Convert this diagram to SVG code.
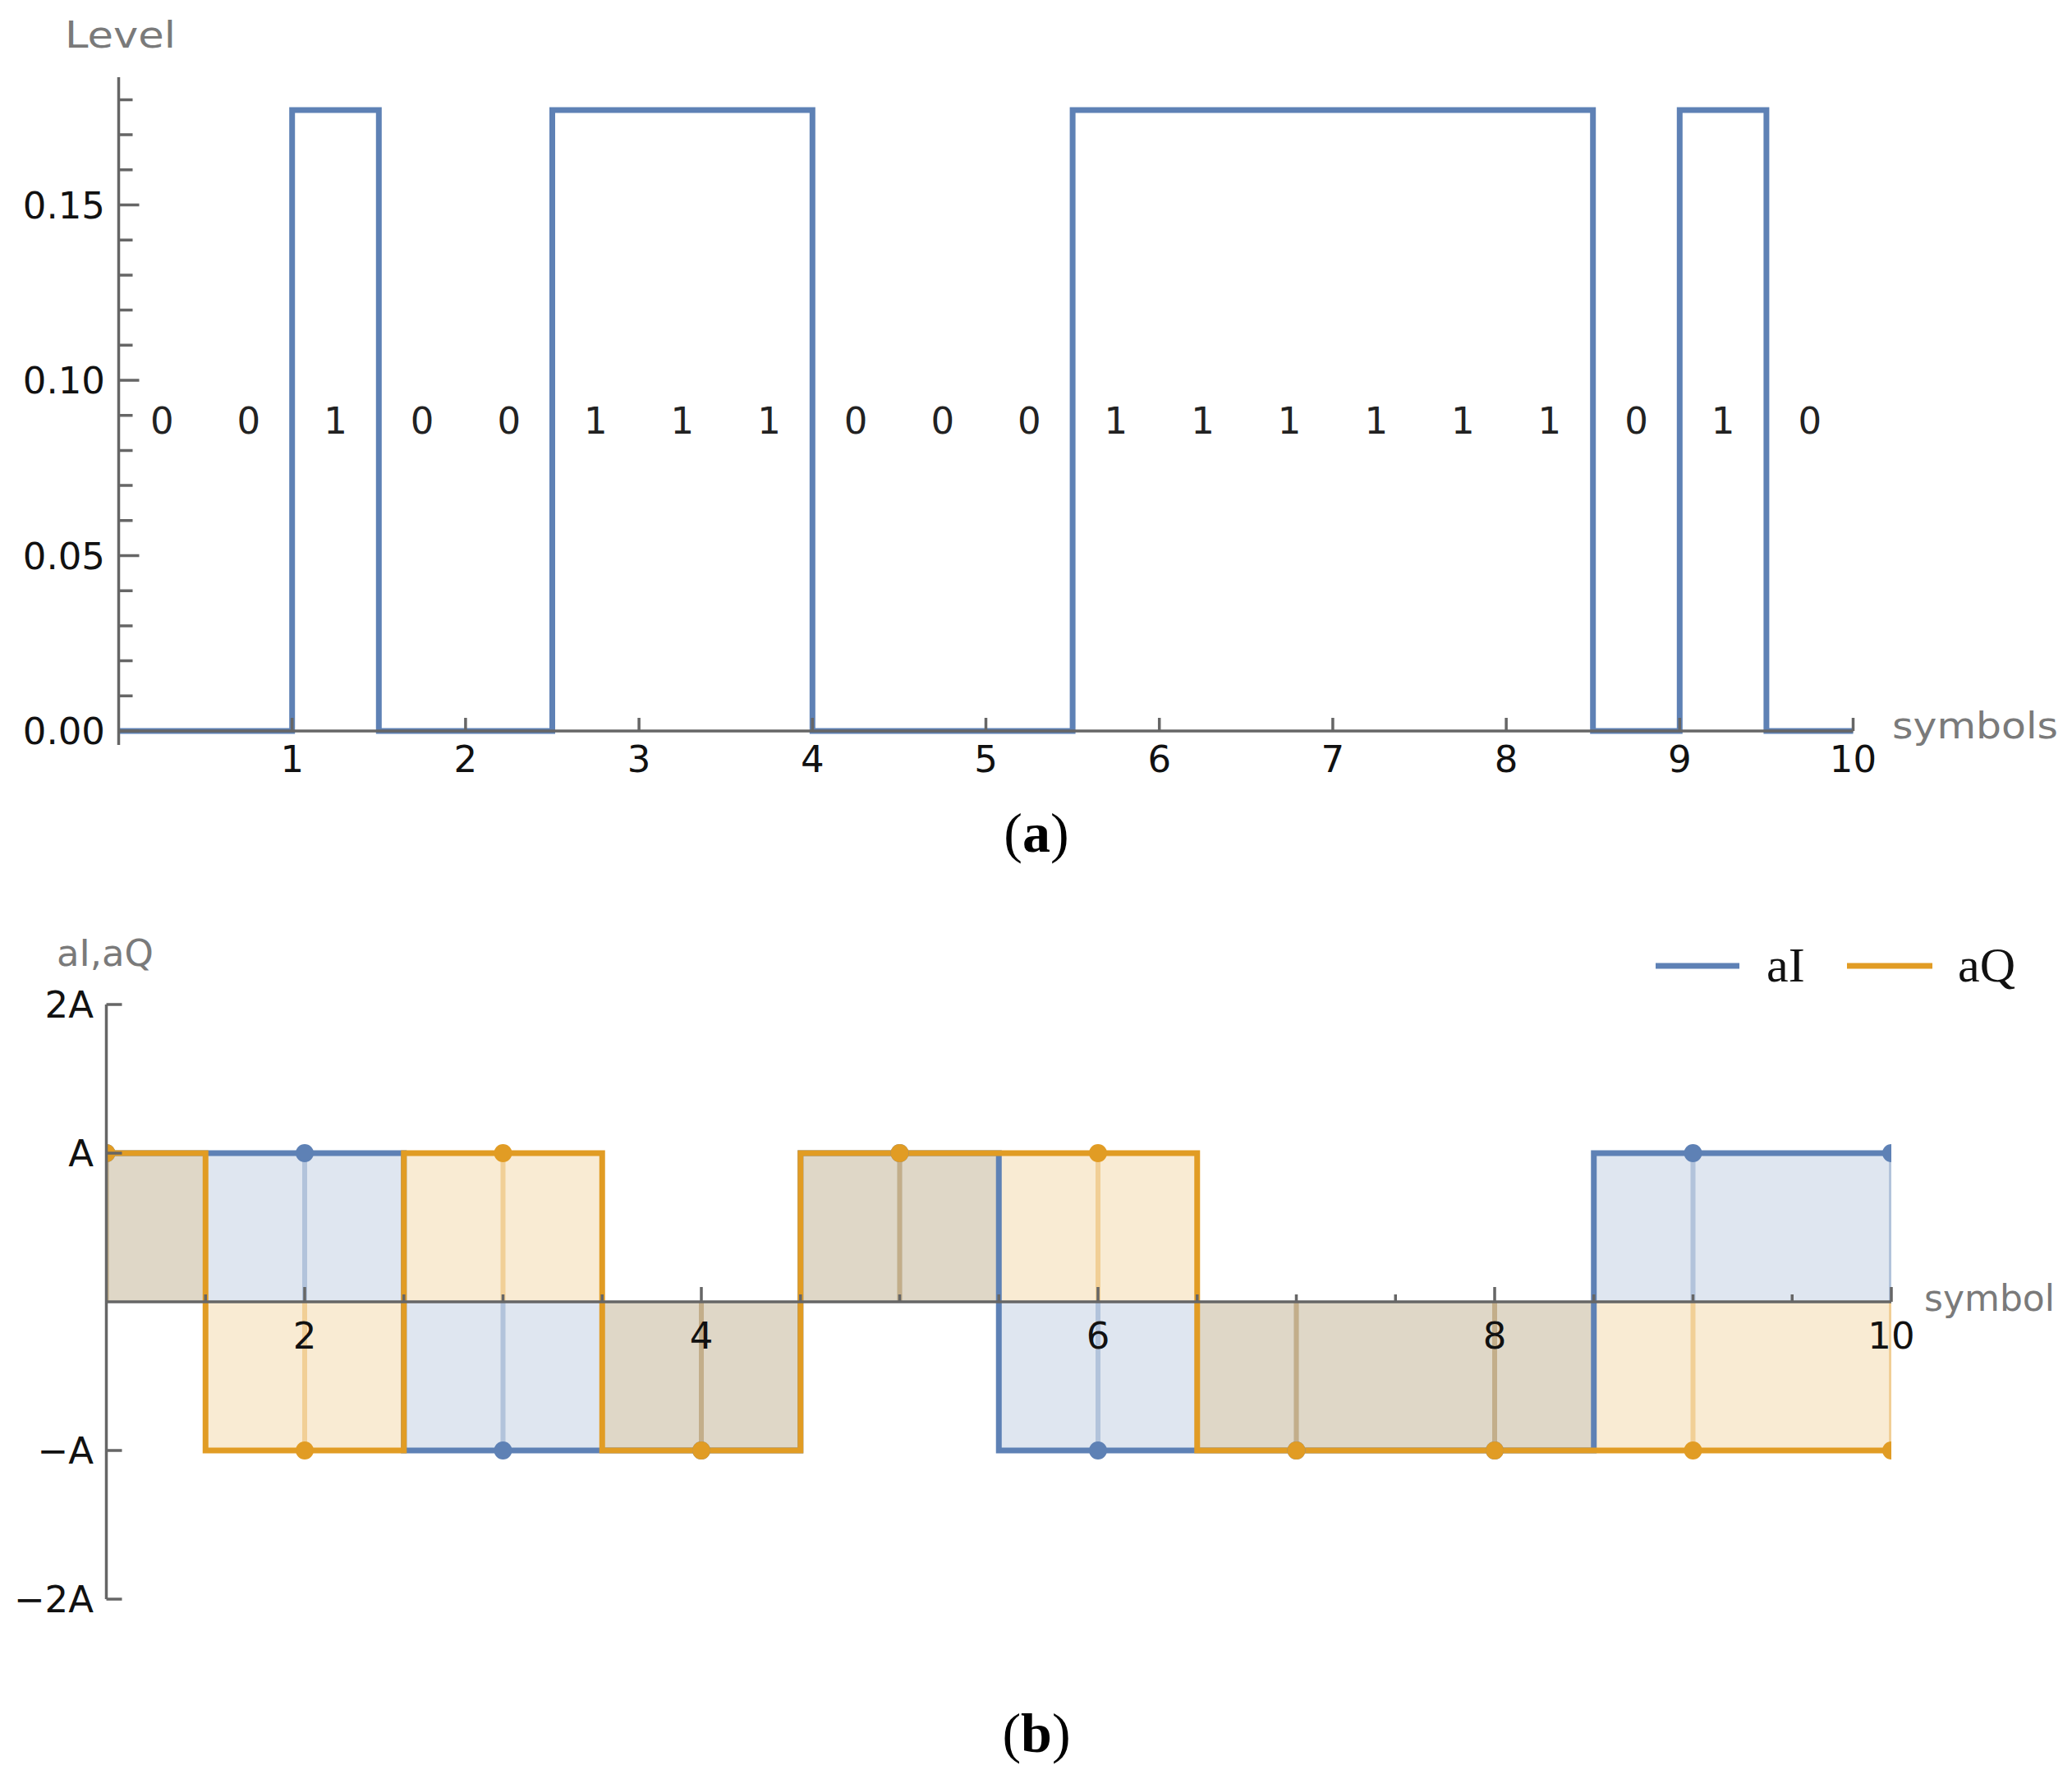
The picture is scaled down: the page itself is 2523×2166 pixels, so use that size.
<svg xmlns="http://www.w3.org/2000/svg" width="2523" height="2166" viewBox="0 0 2523 2166">
<style>
.ax{stroke:#666;stroke-width:3.5;fill:none}
.tk{stroke:#666;stroke-width:3.5}
.num{font-family:"DejaVu Sans",sans-serif;font-size:45px;fill:#111}
.lab{font-family:"DejaVu Sans",sans-serif;font-size:45px;fill:#7a7a7a}
.bit{font-family:"DejaVu Sans",sans-serif;font-size:45px;fill:#222;text-anchor:middle}
.cap{font-family:"Liberation Serif","Times New Roman",serif;font-size:68px;fill:#000;text-anchor:middle}
.leg{font-family:"Liberation Serif","Times New Roman",serif;font-size:60px;fill:#111}
.bl{stroke:#5E81B5;stroke-width:7;fill:none;stroke-linejoin:miter}
.ol{stroke:#E19C24;stroke-width:7;fill:none;stroke-linejoin:miter}
.bf{fill:#5E81B5;fill-opacity:0.2}
.of{fill:#E19C24;fill-opacity:0.2}
.bs{stroke:#5E81B5;stroke-opacity:0.35;stroke-width:6}
.os{stroke:#E19C24;stroke-opacity:0.35;stroke-width:6}
.bd{fill:#5E81B5}
.od{fill:#E19C24}
</style>
<defs>
<clipPath id="clipB"><rect x="129.5" y="1100" width="2173.5" height="900"/></clipPath>
</defs>
<rect width="2523" height="2166" fill="#fff"/>

<g id="chart-a">
  <g id="a-signal">
    <path class="bl" d="M144.5 890 H355.7 V134 H461.3 V890 H672.5 V134 H989.3 V890 H1306.1 V134 H1939.7 V890 H2045.3 V134 H2150.9 V890 H2256.5"/>
  </g>
  <g id="a-axes">
    <line class="ax" x1="144.5" y1="94" x2="144.5" y2="907"/>
    <line class="ax" x1="144.5" y1="890" x2="2256.5" y2="890"/>
    <!-- y ticks -->
    <path class="tk" d="M144.5 890 h25 M144.5 847.3 h17 M144.5 804.6 h17 M144.5 761.9 h17 M144.5 719.2 h17 M144.5 676.5 h25 M144.5 633.8 h17 M144.5 591.1 h17 M144.5 548.4 h17 M144.5 505.7 h17 M144.5 463 h25 M144.5 420.3 h17 M144.5 377.6 h17 M144.5 334.9 h17 M144.5 292.2 h17 M144.5 249.5 h25 M144.5 206.8 h17 M144.5 164.1 h17 M144.5 121.4 h17"/>
    <!-- x ticks -->
    <path class="tk" d="M355.7 890 v-16 M566.9 890 v-16 M778.1 890 v-16 M989.3 890 v-16 M1200.5 890 v-16 M1411.7 890 v-16 M1622.9 890 v-16 M1834.1 890 v-16 M2045.3 890 v-16 M2256.5 890 v-16"/>
  </g>
  <g id="a-labels">
    <text class="lab" x="79" y="58" textLength="135" lengthAdjust="spacingAndGlyphs">Level</text>
    <text class="lab" x="2304" y="899" textLength="202" lengthAdjust="spacingAndGlyphs">symbols</text>
    <g class="num" text-anchor="end">
      <text x="128" y="906">0.00</text>
      <text x="128" y="692.5">0.05</text>
      <text x="128" y="479">0.10</text>
      <text x="128" y="265.5">0.15</text>
    </g>
    <g class="num" text-anchor="middle">
      <text x="355.7" y="940">1</text>
      <text x="566.9" y="940">2</text>
      <text x="778.1" y="940">3</text>
      <text x="989.3" y="940">4</text>
      <text x="1200.5" y="940">5</text>
      <text x="1411.7" y="940">6</text>
      <text x="1622.9" y="940">7</text>
      <text x="1834.1" y="940">8</text>
      <text x="2045.3" y="940">9</text>
      <text x="2256.5" y="940">10</text>
    </g>
    <g id="a-bits">
      <text class="bit" x="197.3" y="528">0</text>
      <text class="bit" x="302.9" y="528">0</text>
      <text class="bit" x="408.5" y="528">1</text>
      <text class="bit" x="514.1" y="528">0</text>
      <text class="bit" x="619.7" y="528">0</text>
      <text class="bit" x="725.3" y="528">1</text>
      <text class="bit" x="830.9" y="528">1</text>
      <text class="bit" x="936.5" y="528">1</text>
      <text class="bit" x="1042.1" y="528">0</text>
      <text class="bit" x="1147.7" y="528">0</text>
      <text class="bit" x="1253.3" y="528">0</text>
      <text class="bit" x="1358.9" y="528">1</text>
      <text class="bit" x="1464.5" y="528">1</text>
      <text class="bit" x="1570.1" y="528">1</text>
      <text class="bit" x="1675.7" y="528">1</text>
      <text class="bit" x="1781.3" y="528">1</text>
      <text class="bit" x="1886.9" y="528">1</text>
      <text class="bit" x="1992.5" y="528">0</text>
      <text class="bit" x="2098.1" y="528">1</text>
      <text class="bit" x="2203.7" y="528">0</text>
    </g>
    <text class="cap" x="1262" y="1037">(<tspan font-weight="bold">a</tspan>)</text>
  </g>
</g>

<g id="chart-b">
  <g id="b-plot" clip-path="url(#clipB)">
    <g id="b-fill-aI">
      <rect class="bf" x="129.5" y="1404" width="362.25" height="181"/>
      <rect class="bf" x="491.75" y="1585" width="483" height="181"/>
      <rect class="bf" x="974.75" y="1404" width="241.5" height="181"/>
      <rect class="bf" x="1216.25" y="1585" width="724.5" height="181"/>
      <rect class="bf" x="1940.75" y="1404" width="362.25" height="181"/>
    </g>
    <g id="b-fill-aQ">
      <rect class="of" x="129.5" y="1404" width="120.75" height="181"/>
      <rect class="of" x="250.25" y="1585" width="241.5" height="181"/>
      <rect class="of" x="491.75" y="1404" width="241.5" height="181"/>
      <rect class="of" x="733.25" y="1585" width="241.5" height="181"/>
      <rect class="of" x="974.75" y="1404" width="483" height="181"/>
      <rect class="of" x="1457.75" y="1585" width="845.25" height="181"/>
    </g>
    <g id="b-stems">
      <path class="bs" d="M129.5 1585 V1404 M371 1585 V1404 M612.5 1585 V1766 M854 1585 V1766 M1095.5 1585 V1404 M1337 1585 V1766 M1578.5 1585 V1766 M1820 1585 V1766 M2061.5 1585 V1404 M2303 1585 V1404"/>
      <path class="os" d="M129.5 1585 V1404 M371 1585 V1766 M612.5 1585 V1404 M854 1585 V1766 M1095.5 1585 V1404 M1337 1585 V1404 M1578.5 1585 V1766 M1820 1585 V1766 M2061.5 1585 V1766 M2303 1585 V1766"/>
    </g>
    <g id="b-line-aI">
      <path class="bl" d="M129.5 1404 H491.75 V1766 H974.75 V1404 H1216.25 V1766 H1940.75 V1404 H2303"/>
    </g>
    <g id="b-line-aQ">
      <path class="ol" d="M129.5 1404 H250.25 V1766 H491.75 V1404 H733.25 V1766 H974.75 V1404 H1457.75 V1766 H2303"/>
    </g>
    <g id="b-points-aI">
      <circle class="bd" cx="129.5" cy="1404" r="11"/>
      <circle class="bd" cx="371" cy="1404" r="11"/>
      <circle class="bd" cx="612.5" cy="1766" r="11"/>
      <circle class="bd" cx="854" cy="1766" r="11"/>
      <circle class="bd" cx="1095.5" cy="1404" r="11"/>
      <circle class="bd" cx="1337" cy="1766" r="11"/>
      <circle class="bd" cx="1578.5" cy="1766" r="11"/>
      <circle class="bd" cx="1820" cy="1766" r="11"/>
      <circle class="bd" cx="2061.5" cy="1404" r="11"/>
      <circle class="bd" cx="2303" cy="1404" r="11"/>
    </g>
    <g id="b-points-aQ">
      <circle class="od" cx="129.5" cy="1404" r="11"/>
      <circle class="od" cx="371" cy="1766" r="11"/>
      <circle class="od" cx="612.5" cy="1404" r="11"/>
      <circle class="od" cx="854" cy="1766" r="11"/>
      <circle class="od" cx="1095.5" cy="1404" r="11"/>
      <circle class="od" cx="1337" cy="1404" r="11"/>
      <circle class="od" cx="1578.5" cy="1766" r="11"/>
      <circle class="od" cx="1820" cy="1766" r="11"/>
      <circle class="od" cx="2061.5" cy="1766" r="11"/>
      <circle class="od" cx="2303" cy="1766" r="11"/>
    </g>
  </g>
  <g id="b-axes">
    <line class="ax" x1="129.5" y1="1223" x2="129.5" y2="1947"/>
    <line class="ax" x1="129.5" y1="1585" x2="2303" y2="1585"/>
    <path class="tk" d="M129.5 1223 h19 M129.5 1404 h19 M129.5 1766 h19 M129.5 1947 h19"/>
    <path class="tk" d="M371 1585 v-18 M854 1585 v-18 M1337 1585 v-18 M1820 1585 v-18 M2303 1585 v-18"/>
    <path class="tk" d="M250.25 1585 v-9 M491.75 1585 v-9 M612.5 1585 v-9 M733.25 1585 v-9 M974.75 1585 v-9 M1095.5 1585 v-9 M1216.25 1585 v-9 M1457.75 1585 v-9 M1578.5 1585 v-9 M1699.25 1585 v-9 M1940.75 1585 v-9 M2061.5 1585 v-9 M2182.25 1585 v-9"/>
  </g>
  <g id="b-labels">
    <text class="lab" x="69" y="1176" textLength="118" lengthAdjust="spacingAndGlyphs">aI,aQ</text>
    <text class="lab" x="2343" y="1596" textLength="159" lengthAdjust="spacingAndGlyphs">symbol</text>
    <g class="num" text-anchor="end">
      <text x="114" y="1239">2A</text>
      <text x="114" y="1420">A</text>
      <text x="114" y="1782">−A</text>
      <text x="114" y="1963">−2A</text>
    </g>
    <g class="num" text-anchor="middle">
      <text x="371" y="1642">2</text>
      <text x="854" y="1642">4</text>
      <text x="1337" y="1642">6</text>
      <text x="1820" y="1642">8</text>
      <text x="2303" y="1642">10</text>
    </g>
    <text class="cap" x="1262" y="2133">(<tspan font-weight="bold">b</tspan>)</text>
  </g>
  <g id="b-legend">
    <line class="bl" x1="2016" y1="1176" x2="2118" y2="1176"/>
    <text class="leg" x="2151" y="1195">aI</text>
    <line class="ol" x1="2249" y1="1176" x2="2353" y2="1176"/>
    <text class="leg" x="2384" y="1195">aQ</text>
  </g>
</g>
</svg>
